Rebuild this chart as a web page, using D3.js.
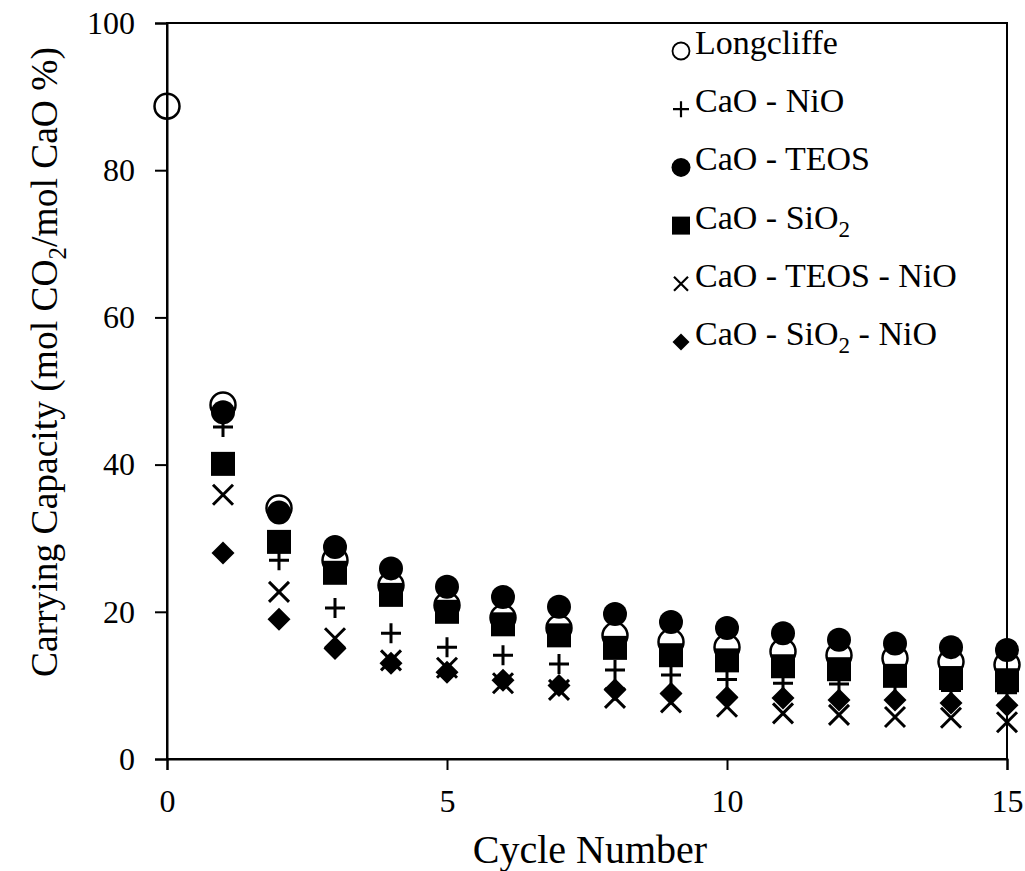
<!DOCTYPE html>
<html>
<head>
<meta charset="utf-8">
<script src="https://cdn.jsdelivr.net/npm/d3@7"></script>
<style>
  html, body { margin: 0; padding: 0; background: #fff; }
  svg text { font-family: "Liberation Serif", "Times New Roman", serif; fill: #000; }
</style>
</head>
<body>
<svg id="chart" width="1025" height="871"></svg>
<script>
// Data
const cycles = [1, 2, 3, 4, 5, 6, 7, 8, 9, 10, 11, 12, 13, 14, 15];
const longcliffeCycles = [0, 1, 2, 3, 4, 5, 6, 7, 8, 9, 10, 11, 12, 13, 14, 15];
const longcliffe = [88.7, 48.1, 34.1, 27.0, 23.6, 20.9, 19.2, 17.8, 16.8, 15.9, 15.2, 14.6, 14.1, 13.7, 13.2, 12.8];
const caoNiO = [45.1, 27.0, 20.5, 17.1, 15.2, 14.1, 12.9, 12.1, 11.4, 10.8, 10.3, 10.2, 10.0, 9.3, 9.0];
const caoTEOS = [47.1, 33.5, 28.8, 25.9, 23.4, 22.0, 20.7, 19.7, 18.6, 17.8, 17.1, 16.2, 15.7, 15.2, 14.8];
const caoSiO2 = [40.1, 29.5, 25.3, 22.3, 20.0, 18.3, 16.8, 15.1, 14.1, 13.4, 12.6, 12.2, 11.3, 11.0, 10.7];
const caoTEOSNiO = [35.9, 22.7, 16.4, 13.4, 12.4, 10.3, 9.4, 8.3, 7.7, 7.1, 6.2, 6.0, 5.7, 5.6, 5.0];
const caoSiO2NiO = [28.0, 19.0, 15.0, 13.0, 11.8, 10.7, 10.0, 9.4, 8.9, 8.4, 8.3, 8.0, 8.0, 7.6, 7.3];

const xTicks = [0, 5, 10, 15];
const yTicks = [0, 20, 40, 60, 80, 100];

// series in drawing order (later ones sit on top)
const series = [
  {name: [["Longcliffe"]], marker: "open", xs: longcliffeCycles, ys: longcliffe},
  {name: [["CaO - NiO"]], marker: "plus", xs: cycles, ys: caoNiO},
  {name: [["CaO - TEOS"]], marker: "dot", xs: cycles, ys: caoTEOS},
  {name: [["CaO - SiO"], ["2", true]], marker: "square", xs: cycles, ys: caoSiO2},
  {name: [["CaO - TEOS - NiO"]], marker: "times", xs: cycles, ys: caoTEOSNiO},
  {name: [["CaO - SiO"], ["2", true], [" - NiO"]], marker: "diamond", xs: cycles, ys: caoSiO2NiO}
];

const svg = d3.select('#chart');
const margin = {left: 167, right: 18, top: 23, bottom: 112};
const W = 1025, H = 871;

const x = d3.scaleLinear().domain([0, 15]).range([margin.left, W - margin.right]);
const y = d3.scaleLinear().domain([0, 100]).range([H - margin.bottom, margin.top]);

// plot frame
svg.append('rect')
  .attr('x', x(0)).attr('y', y(100))
  .attr('width', x(15) - x(0)).attr('height', y(0) - y(100))
  .attr('fill', 'none').attr('stroke', '#000').attr('stroke-width', 2);

// axes
const xAxis = svg.append('g')
  .attr('transform', `translate(0,${y(0)})`)
  .call(d3.axisBottom(x).tickValues(xTicks).tickSize(11).tickPadding(19).tickFormat(d3.format('d')));
const yAxis = svg.append('g')
  .attr('transform', `translate(${x(0)},0)`)
  .call(d3.axisLeft(y).tickValues(yTicks).tickSize(12).tickPadding(20).tickFormat(d3.format('d')));
[xAxis, yAxis].forEach(a => {
  a.select('.domain').attr('stroke-width', 2);
  a.selectAll('.tick line').attr('stroke-width', 2);
  a.selectAll('.tick text').attr('font-size', 32);
});
xAxis.selectAll('.tick text').attr('dy', '0.71em');

// axis titles
svg.append('text')
  .attr('x', 590).attr('y', 863)
  .attr('text-anchor', 'middle').attr('font-size', 40)
  .text('Cycle Number');

const yTitle = svg.append('text')
  .attr('transform', `translate(57,362) rotate(-90)`)
  .attr('text-anchor', 'middle').attr('font-size', 37.5);
yTitle.append('tspan').text('Carrying Capacity (mol CO');
yTitle.append('tspan').attr('font-size', 25).attr('dy', 9).text('2');
yTitle.append('tspan').attr('dy', -9).text('/mol CaO %)');

// marker shapes
function markerPath(type, s) {
  const h = s / 2;
  if (type === 'plus') return `M${-h},0H${h}M0,${-h}V${h}`;
  if (type === 'times') return `M${-h},${-h}L${h},${h}M${-h},${h}L${h},${-h}`;
  if (type === 'square') return `M${-h},${-h}H${h}V${h}H${-h}Z`;
  if (type === 'diamond') return `M0,${-h}L${h},0L0,${h}L${-h},0Z`;
  return d3.arc()({innerRadius: 0, outerRadius: h, startAngle: 0, endAngle: 2 * Math.PI});
}
function styleMarker(sel, type, big) {
  if (type === 'open') {
    sel.attr('fill', 'none').attr('stroke', '#000').attr('stroke-width', big ? 2.5 : 1.8);
  } else if (type === 'plus' || type === 'times') {
    sel.attr('fill', 'none').attr('stroke', '#000').attr('stroke-width', big ? 3 : 2.2);
  } else {
    sel.attr('fill', '#000').attr('stroke', 'none');
  }
}
const markerSize = {open: 25, plus: 20, dot: 24, square: 24, times: 20, diamond: 23};
const legendSize = {open: 17, plus: 16, dot: 19, square: 18, times: 14, diamond: 17};

// points
series.forEach(s => {
  const pts = s.xs.map((c, i) => ({c: c, v: s.ys[i]}));
  const m = svg.append('g').selectAll('path')
    .data(pts)
    .enter().append('path')
    .attr('transform', d => `translate(${x(d.c)},${y(d.v)})`)
    .attr('d', markerPath(s.marker, markerSize[s.marker]));
  styleMarker(m, s.marker, true);
});

// legend
const legend = svg.append('g');
series.forEach((s, i) => {
  const row = legend.append('g').attr('transform', `translate(681,${51 + i * 58.2})`);
  const m = row.append('path').attr('d', markerPath(s.marker, legendSize[s.marker]));
  styleMarker(m, s.marker, false);
  const t = row.append('text').attr('x', 14).attr('y', 11).attr('font-size', 34);
  s.name.forEach(part => {
    if (part[1]) t.append('tspan').attr('font-size', 23).attr('dy', 8).text(part[0]);
    else t.append('tspan').attr('dy', t.selectAll('tspan').size() ? -8 : 0).text(part[0]);
  });
});
</script>
</body>
</html>
